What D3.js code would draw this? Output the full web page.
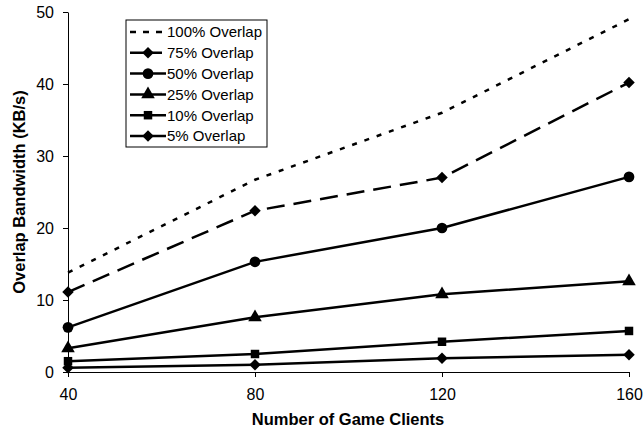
<!DOCTYPE html>
<html>
<head>
<meta charset="utf-8">
<script src="https://cdn.jsdelivr.net/npm/d3@7"></script>
<style>
  body { margin: 0; background: #fff; }
  text { font-family: "Liberation Sans", Arial, sans-serif; }
</style>
</head>
<body>
<div id="chart"></div>
<script>
(function () {
    let width = 643, height = 431;

    let clients = [40, 80, 120, 160];
    let seriesNames = ["100% Overlap", "75% Overlap", "50% Overlap", "25% Overlap", "10% Overlap", "5% Overlap"];
    let overlap100 = [13.8, 26.7, 36.0, 49.0];
    let overlap75 = [11.1, 22.4, 27.0, 40.2];
    let overlap50 = [6.2, 15.3, 20.0, 27.1];
    let overlap25 = [3.3, 7.6, 10.8, 12.6];
    let overlap10 = [1.5, 2.5, 4.2, 5.7];
    let overlap5 = [0.6, 1.0, 1.9, 2.4];
    let yTicks = [0, 10, 20, 30, 40, 50];

    let series = [
        { name: seriesNames[0], values: overlap100, dash: "5,8", marker: null },
        { name: seriesNames[1], values: overlap75, dash: "18,9", marker: "diamond" },
        { name: seriesNames[2], values: overlap50, dash: null, marker: "circle" },
        { name: seriesNames[3], values: overlap25, dash: null, marker: "triangle" },
        { name: seriesNames[4], values: overlap10, dash: null, marker: "square" },
        { name: seriesNames[5], values: overlap5, dash: null, marker: "diamond" }
    ];
    // diamond = square rotated 45 degrees
    let symbols = {
        circle: { type: d3.symbolCircle, size: 90, rot: 0 },
        triangle: { type: d3.symbolTriangle, size: 80, rot: 0 },
        square: { type: d3.symbolSquare, size: 72, rot: 0 },
        diamond: { type: d3.symbolSquare, size: 66, rot: 45 }
    };

    let svg = d3.select("#chart")
        .append("svg")
        .attr("width", width)
        .attr("height", height);

    let x = d3.scaleLinear()
        .domain([40, 160])
        .range([68, 629]);
    let y = d3.scaleLinear()
        .domain([0, 50])
        .range([372, 12]);

    // axes
    let xAxis = svg.append("g")
        .attr("transform", "translate(0,372)")
        .call(d3.axisBottom(x).tickValues(clients).tickSize(5).tickPadding(9).tickSizeOuter(0));
    let yAxis = svg.append("g")
        .attr("transform", "translate(68,0)")
        .call(d3.axisLeft(y).tickValues(yTicks).tickSize(5).tickPadding(9).tickSizeOuter(0));
    [xAxis, yAxis].forEach(g => {
        g.selectAll("text")
            .attr("font-size", "16px")
            .attr("font-family", "Liberation Sans, Arial, sans-serif")
            .attr("fill", "#000");
        g.selectAll("line, path").attr("stroke", "#000").attr("stroke-width", 1);
    });
    xAxis.selectAll("text").attr("dy", "0.85em");
    yAxis.selectAll("text").attr("dy", "0.36em");

    svg.append("text")
        .attr("x", 348)
        .attr("y", 425)
        .attr("text-anchor", "middle")
        .attr("font-size", "16.5px")
        .attr("font-weight", "bold")
        .text("Number of Game Clients");
    svg.append("text")
        .attr("transform", "translate(25,192) rotate(-90)")
        .attr("text-anchor", "middle")
        .attr("font-size", "16.5px")
        .attr("font-weight", "bold")
        .text("Overlap Bandwidth (KB/s)");

    let line = d3.line()
        .x((d, i) => x(clients[i]))
        .y(d => y(d));

    let gs = svg.selectAll(".series")
        .data(series)
        .enter()
        .append("g")
        .attr("class", "series");
    gs.append("path")
        .attr("d", d => line(d.values))
        .attr("fill", "none")
        .attr("stroke", "#000")
        .attr("stroke-width", 2.5)
        .attr("stroke-dasharray", d => d.dash);
    gs.each(function (s) {
        if (!s.marker) return;
        let sym = symbols[s.marker];
        d3.select(this).selectAll("path.mark")
            .data(s.values)
            .enter()
            .append("path")
            .attr("class", "mark")
            .attr("d", d3.symbol().type(sym.type).size(sym.size))
            .attr("transform", (d, i) => `translate(${x(clients[i])},${y(d)}) rotate(${sym.rot})`)
            .attr("fill", "#000");
    });

    // legend
    let legend = svg.append("g");
    legend.append("rect")
        .attr("x", 126)
        .attr("y", 20)
        .attr("width", 141)
        .attr("height", 127)
        .attr("fill", "#fff")
        .attr("stroke", "#000")
        .attr("stroke-width", 1);
    let items = legend.selectAll(".item")
        .data(series)
        .enter()
        .append("g")
        .attr("transform", (d, i) => `translate(0,${32 + i * 20.8})`);
    items.append("line")
        .attr("x1", 130)
        .attr("x2", 166)
        .attr("stroke", "#000")
        .attr("stroke-width", 2.5)
        .attr("stroke-dasharray", (d, i) => i === 0 ? "6,7" : (i === 1 ? "14,4" : null));
    items.filter(d => d.marker)
        .append("path")
        .attr("d", d => d3.symbol().type(symbols[d.marker].type).size(symbols[d.marker].size)())
        .attr("transform", d => `translate(148,0) rotate(${symbols[d.marker].rot})`)
        .attr("fill", "#000");
    items.append("text")
        .attr("x", 167)
        .attr("y", 0)
        .attr("dy", "0.36em")
        .attr("font-size", "15px")
        .text(d => d.name);
})();
</script>
</body>
</html>
